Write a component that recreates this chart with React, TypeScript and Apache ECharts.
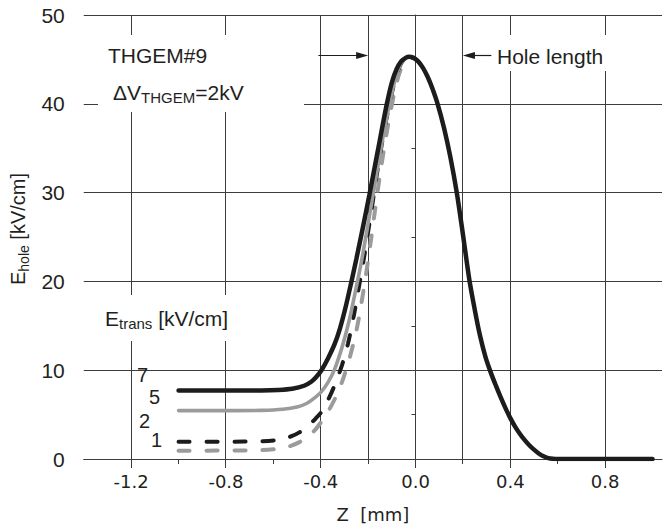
import React, { useEffect, useRef } from "react";
import * as echarts from "echarts";

// ---- axis ticks / labels ----
const xLabelValues = [-1.2, -0.8, -0.4, 0.0, 0.4, 0.8];
const xTickLabels = ["-1.2", "-0.8", "-0.4", "0.0", "0.4", "0.8"];
const xMinorTickValues = [-1.0, -0.6, -0.2, 0.2, 0.6];
const xGridValues = [-1.2, -0.8, -0.4, -0.2, 0.0, 0.2, 0.4, 0.8];
const yTickLabels = ["0", "10", "20", "30", "40", "50"];

// ---- hole length markers (arrow from, level, to) ----
const holeArrows: [number, number, number][] = [
  [-0.41, 45.4, -0.2],
  [0.32, 45.4, 0.2],
];

// ---- E_hole curves for E_trans = 7, 5, 2, 1 kV/cm ----
const curveE7: [number, number][] = [
  [-1.0, 7.7], [-0.8, 7.7], [-0.65, 7.72], [-0.58, 7.78], [-0.52, 7.92], [-0.47, 8.25],
  [-0.44, 8.7], [-0.42, 9.2], [-0.397, 10.0], [-0.37, 11.3], [-0.342, 12.9], [-0.32, 14.6],
  [-0.296, 17.0], [-0.272, 19.8], [-0.25, 22.5], [-0.222, 26.1], [-0.195, 29.7], [-0.16, 34.6],
  [-0.121, 40.0], [-0.1, 42.4], [-0.08, 43.9], [-0.06, 44.8], [-0.04, 45.2], [-0.028, 45.3],
  [-0.01, 45.2], [0.01, 44.8], [0.03, 44.1], [0.05, 43.1], [0.07, 41.8], [0.093, 40.0],
  [0.12, 37.3], [0.147, 34.0], [0.174, 30.0], [0.2, 25.3], [0.227, 20.2], [0.25, 16.8],
  [0.272, 13.9], [0.295, 11.5], [0.318, 9.7], [0.34, 8.2], [0.36, 6.9], [0.38, 5.7],
  [0.4, 4.6], [0.42, 3.65], [0.44, 2.85], [0.46, 2.15], [0.48, 1.55], [0.5, 1.05],
  [0.52, 0.62], [0.54, 0.3], [0.56, 0.1], [0.58, 0.02], [0.6, 0.0], [0.8, 0.0], [1.0, 0.0],
];
const curveE5: [number, number][] = [
  [-1.0, 5.45], [-0.8, 5.45], [-0.65, 5.48], [-0.56, 5.6], [-0.5, 5.85], [-0.46, 6.25],
  [-0.43, 6.8], [-0.4, 7.5], [-0.37, 8.6], [-0.343, 10.0], [-0.31, 12.6], [-0.28, 15.6],
  [-0.255, 18.7], [-0.23, 22.0], [-0.208, 25.3], [-0.186, 28.7], [-0.16, 32.8], [-0.13, 37.3],
  [-0.1, 41.2], [-0.08, 43.3], [-0.06, 44.6], [-0.04, 45.2], [-0.028, 45.3],
];
const curveE2: [number, number][] = [
  [-1.0, 1.95], [-0.8, 1.95], [-0.65, 2.0], [-0.58, 2.15], [-0.53, 2.5], [-0.49, 3.0],
  [-0.45, 3.8], [-0.42, 4.6], [-0.4, 5.2], [-0.37, 6.6], [-0.34, 8.4], [-0.31, 10.6],
  [-0.285, 13.0], [-0.26, 16.2], [-0.24, 19.2], [-0.218, 22.6], [-0.19, 27.3], [-0.16, 32.6],
  [-0.13, 37.3], [-0.1, 41.2], [-0.08, 43.3], [-0.06, 44.6], [-0.04, 45.2], [-0.028, 45.3],
];
const curveE1: [number, number][] = [
  [-1.0, 0.94], [-0.8, 0.95], [-0.65, 1.0], [-0.58, 1.15], [-0.53, 1.45], [-0.49, 1.9],
  [-0.45, 2.6], [-0.42, 3.4], [-0.4, 4.1], [-0.37, 5.3], [-0.34, 6.8], [-0.31, 8.7],
  [-0.28, 11.2], [-0.25, 14.4], [-0.23, 17.3], [-0.21, 20.6], [-0.19, 24.3], [-0.17, 28.2],
  [-0.15, 32.0], [-0.12, 37.0], [-0.09, 41.2], [-0.07, 43.3], [-0.05, 44.6], [-0.035, 45.1],
  [-0.028, 45.3],
];
const curveNames = ["7", "5", "2", "1"];

const BLACK = "#1e1b1b";
const GRAY = "#9b9b9b";
const TEXT = "#231f20";
const GRID = "#3c3c3c";
const SANS = "'Liberation Sans', Arial, Helvetica, sans-serif";
const XFONT = "'DejaVu Sans', Verdana, sans-serif";

const isMajorX = (v: number) => xLabelValues.some((m) => Math.abs(m - v) < 1e-6);
const crisp = (p: number) => Math.round(p - 0.5) + 0.5;

function buildOption(): any {
  const textEl = (x: number, y: number, text: string, size = 21) => ({
    type: "text",
    z: 60,
    x,
    y,
    silent: true,
    style: {
      text,
      fill: TEXT,
      fontSize: size,
      fontFamily: SANS,
      align: "left",
      verticalAlign: "middle",
      textAlign: "left",
      textVerticalAlign: "middle",
    },
  });
  const richEl = (x: number, y: number, text: string) => ({
    type: "text",
    z: 60,
    x,
    y,
    silent: true,
    style: {
      text,
      fill: TEXT,
      fontFamily: SANS,
      fontSize: 21,
      align: "left",
      verticalAlign: "middle",
      textAlign: "left",
      textVerticalAlign: "middle",
      rich: {
        m: { fontSize: 21, fontFamily: SANS, fill: TEXT, lineHeight: 26 },
        s: { fontSize: 15, fontFamily: SANS, fill: TEXT, verticalAlign: "bottom" },
      },
    },
  });
  const whiteBox = (x: number, y: number, w: number, h: number) => ({
    type: "rect",
    z: 55,
    silent: true,
    shape: { x, y, width: w, height: h },
    style: { fill: "#ffffff" },
  });
  const curve = (name: string, data: [number, number][], z: number, lineStyle: any) => ({
    type: "line",
    name,
    data,
    z,
    symbol: "none",
    showSymbol: false,
    smooth: 0.3,
    lineStyle,
  });

  return {
    animation: false,
    backgroundColor: "#ffffff",
    grid: { left: 81, right: 2, top: 15, bottom: 73, containLabel: false },
    xAxis: {
      type: "value",
      min: -1.4,
      max: 1.04,
      interval: 0.2,
      name: "Z  [mm]",
      nameLocation: "middle",
      nameGap: 46,
      nameTextStyle: { fontFamily: XFONT, fontSize: 18, color: TEXT },
      axisLine: { show: true, onZero: false, lineStyle: { color: GRID, width: 1 } },
      axisTick: { show: false },
      splitLine: { show: false },
      axisLabel: {
        margin: 13,
        fontFamily: XFONT,
        fontSize: 18,
        color: TEXT,
        formatter: (v: number) => {
          const i = xLabelValues.findIndex((m) => Math.abs(m - v) < 1e-6);
          return i >= 0 ? xTickLabels[i] : "";
        },
      },
    },
    yAxis: {
      type: "value",
      min: 0,
      max: 50,
      interval: 10,
      name: "{m|E}{s|hole}{m| [kV/cm]}",
      nameLocation: "middle",
      nameGap: 50,
      nameRotate: 90,
      nameTextStyle: {
        color: TEXT,
        padding: [0, 0, 0, 16],
        rich: {
          m: { fontSize: 20, fontFamily: SANS, color: TEXT, lineHeight: 25 },
          s: { fontSize: 14, fontFamily: SANS, color: TEXT, verticalAlign: "bottom" },
        },
      },
      axisLine: { show: true, lineStyle: { color: GRID, width: 1 } },
      axisTick: { show: true, inside: false, length: 9, lineStyle: { color: GRID, width: 1 } },
      minorTick: { show: true, splitNumber: 2, length: 4, lineStyle: { color: GRID, width: 1 } },
      splitLine: { show: true, lineStyle: { color: GRID, width: 1 } },
      axisLabel: {
        margin: 19,
        fontFamily: SANS,
        fontSize: 21,
        color: TEXT,
        formatter: (v: number) => yTickLabels[Math.round(v / 10)] ?? "",
      },
    },
    series: [
      {
        // vertical grid lines (incl. hole-edge lines at +/-0.2)
        type: "custom",
        name: "vgrid",
        z: 1,
        silent: true,
        clip: false,
        encode: { x: 0, y: 1 },
        data: xGridValues.map((v) => [v, 50]),
        renderItem: (_p: any, api: any) => {
          const v = api.value(0);
          const a = api.coord([v, 0]);
          const b = api.coord([v, 50]);
          const x = crisp(a[0]);
          return {
            type: "line",
            shape: { x1: x, y1: a[1], x2: x, y2: b[1] },
            style: { stroke: GRID, lineWidth: 1 },
          };
        },
      },
      {
        // x ticks below the axis
        type: "custom",
        name: "xticks",
        z: 1,
        silent: true,
        clip: false,
        encode: { x: 0, y: 1 },
        data: [...xLabelValues, ...xMinorTickValues].map((v) => [v, 0]),
        renderItem: (_p: any, api: any) => {
          const v = api.value(0);
          const a = api.coord([v, 0]);
          const len = isMajorX(v) ? 9 : 5;
          const x = crisp(a[0]);
          return {
            type: "line",
            shape: { x1: x, y1: a[1], x2: x, y2: a[1] + len },
            style: { stroke: GRID, lineWidth: 1 },
          };
        },
      },
      {
        // hole length arrows
        type: "custom",
        name: "arrows",
        z: 2,
        silent: true,
        clip: false,
        encode: { x: 0, y: 1 },
        data: holeArrows,
        renderItem: (_p: any, api: any) => {
          const p0 = api.coord([api.value(0), api.value(1)]);
          const p1 = api.coord([api.value(2), api.value(1)]);
          const dir = p1[0] > p0[0] ? 1 : -1;
          const hl = 12;
          const hw = 3.5;
          const y = crisp(p0[1]);
          return {
            type: "group",
            children: [
              {
                type: "line",
                shape: { x1: p0[0], y1: y, x2: p1[0] - dir * (hl - 2), y2: y },
                style: { stroke: BLACK, lineWidth: 1.2 },
              },
              {
                type: "polygon",
                shape: {
                  points: [
                    [p1[0], y],
                    [p1[0] - dir * hl, y - hw],
                    [p1[0] - dir * hl, y + hw],
                  ],
                },
                style: { fill: BLACK },
              },
            ],
          };
        },
      },
      curve(curveNames[3], curveE1, 3, { color: GRAY, width: 4, type: [11, 17], cap: "round" }),
      curve(curveNames[2], curveE2, 4, { color: BLACK, width: 4, type: [11, 17], cap: "round" }),
      curve(curveNames[1], curveE5, 5, { color: GRAY, width: 3.6, cap: "round" }),
      curve(curveNames[0], curveE7, 6, { color: BLACK, width: 4.5, cap: "round" }),
    ],
    graphic: [
      whiteBox(98, 35, 206, 77),
      whiteBox(494, 35, 118, 36),
      whiteBox(100, 295, 135, 46),
      textEl(108, 55, "THGEM#9"),
      richEl(113, 92, "{m|\u0394V}{s|THGEM}{m|=2kV}"),
      textEl(497, 56, "Hole length"),
      richEl(105, 318, "{m|E}{s|trans}{m| [kV/cm]}"),
      textEl(137, 375, curveNames[0], 20),
      textEl(149, 397, curveNames[1], 20),
      textEl(139, 421, curveNames[2], 20),
      textEl(151, 440, curveNames[3], 20),
    ],
  };
}

export default function App() {
  const ref = useRef<HTMLDivElement>(null);
  useEffect(() => {
    if (!ref.current) return;
    const chart = echarts.init(ref.current, undefined, { renderer: "svg" });
    chart.setOption(buildOption());
    return () => chart.dispose();
  }, []);
  return (
    <div
      ref={ref}
      style={{ position: "absolute", left: 0, top: 0, width: 665, height: 532, background: "#fff" }}
    />
  );
}
